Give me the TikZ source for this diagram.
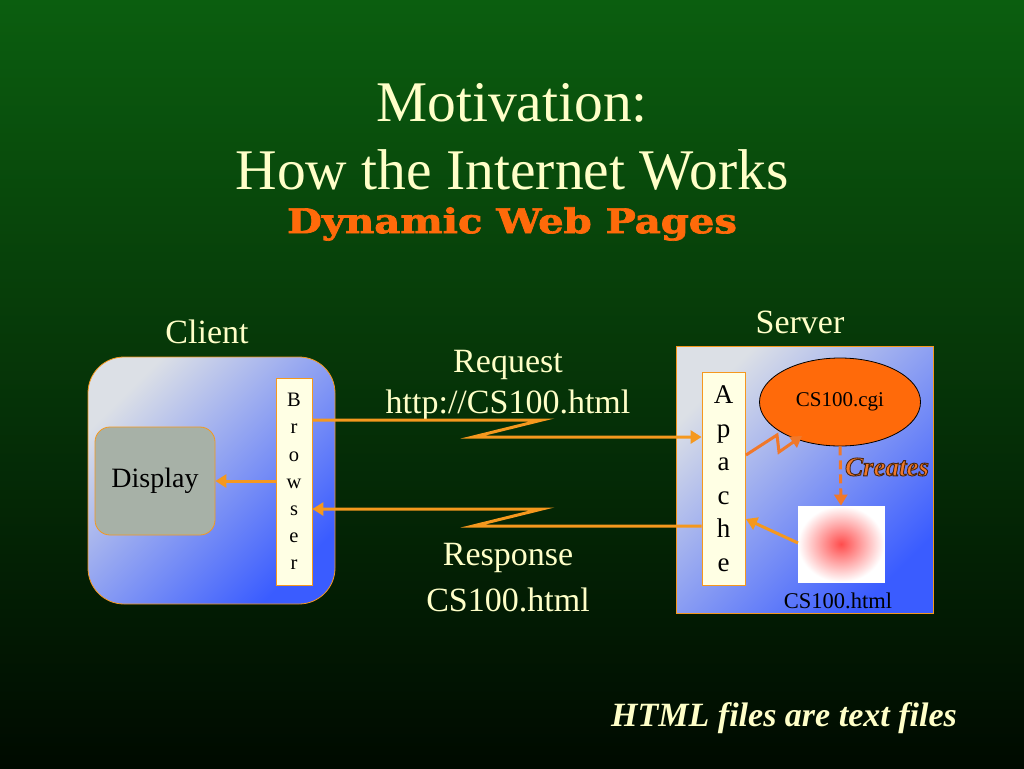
\documentclass[tikz,border=0pt]{standalone}
\usepackage{fontspec}
\setmainfont{Liberation Serif}
\newfontface\heavyfont[FakeBold=2]{DejaVu Serif Bold}
\usetikzlibrary{shapes.geometric,arrows.meta,calc}
\definecolor{bgtop}{HTML}{0B5E0F}
\definecolor{bgmid}{HTML}{064A08}
\definecolor{bgbot}{HTML}{000A00}
\definecolor{cream}{HTML}{FFFFC8}
\definecolor{boxlight}{HTML}{DCE0E6}
\definecolor{boxmid}{HTML}{A4B2F2}
\definecolor{boxblue}{HTML}{3A5CFF}
\definecolor{amber}{HTML}{F5981E}
\definecolor{hotorange}{HTML}{FF6A0A}
\definecolor{dashorange}{HTML}{F0782A}
\definecolor{dispfill}{HTML}{A7B1A7}
\definecolor{barfill}{HTML}{FFFFE4}
\newcommand{\outlinedtext}[1]{\special{pdf:literal direct 2 Tr 0.9 w 0.3 0.15 0.05 RG}#1\special{pdf:literal direct 0 Tr}}
\begin{document}
\begin{tikzpicture}[x=1pt,y=-1pt,
  bluebox/.style={draw=amber, line width=0.8pt, top color=boxlight, middle color=boxmid, bottom color=boxblue, shading angle=45},
  barbox/.style={draw=amber, line width=0.8pt, fill=barfill, inner sep=0pt, text=black},
  conn/.style={draw=amber, line width=3pt, line join=miter},
  tip/.style={-{Triangle[width=13pt,length=11pt]}},
  lbl/.style={text=cream, inner sep=0pt, font=\fontsize{34}{38}\selectfont},
  ]
\useasboundingbox (0,0) rectangle (1024,768);
\fill[top color=bgtop, middle color=bgmid, bottom color=bgbot] (0,0) rectangle (1024,768);

% title
\node[text=cream, inner sep=0pt, font=\fontsize{57.5}{60}\selectfont] (t1) at (512,103) {Motivation:};
\node[text=cream, inner sep=0pt, font=\fontsize{57.5}{60}\selectfont] (t2) at (512,170) {How the Internet Works};
\node[text=hotorange, inner sep=0pt, font=\heavyfont\fontsize{34}{36}\selectfont] (t3) at (512,224) {\scalebox{1.18}[1]{Dynamic Web Pages}};

% client
\node[lbl] (clientlbl) at (207,332) {Client};
\node[bluebox, rounded corners=36pt, minimum width=247pt, minimum height=247pt] (client) at (211.5,480.5) {};
\node[draw=amber, line width=0.8pt, fill=dispfill, rounded corners=15pt, minimum width=120pt, minimum height=108pt, font=\fontsize{28}{32}\selectfont] (disp) at (155,481) {Display};
\node[barbox, minimum width=36pt, minimum height=207pt, align=center, font=\fontsize{20.5}{27.2}\selectfont] (brow) at (294,481.5) {B\\r\\o\\w\\s\\e\\r};

% server
\node[lbl] (serverlbl) at (800,322) {Server};
\node[bluebox, minimum width=257pt, minimum height=267pt] (server) at (804.5,479.5) {};
\node[barbox, minimum width=43pt, minimum height=213pt, align=center, font=\fontsize{27}{33.5}\selectfont] (apache) at (723.5,478.5) {A\\p\\a\\c\\h\\e};
\node[ellipse, draw=black, line width=0.8pt, fill=hotorange, minimum width=161pt, minimum height=88pt, inner sep=0pt, font=\fontsize{21}{24}\selectfont] (cgi) at (840,402) {CS100.cgi};
\node[draw=white, line width=0.8pt, inner color=red!70!white, outer color=white, minimum width=86pt, minimum height=76pt] (page) at (841,544) {};
\node[inner sep=0pt, text=black, font=\fontsize{22.5}{26}\selectfont] (pagelbl) at (838,601) {CS100.html};
\node[inner sep=0pt, text=dashorange, font=\bfseries\itshape\fontsize{27}{30}\selectfont] (creates) at (887,467) {\outlinedtext{Creates}};

% request / response labels
\node[lbl] (req) at (508,365) {Request};
\node[lbl] (requrl) at (508,405) {http://CS100.html};
\node[lbl] (resp) at (508,558) {Response};
\node[lbl] (respurl) at (508,600) {CS100.html};
\node[text=cream, inner sep=0pt, font=\bfseries\itshape\fontsize{34}{38}\selectfont] (note) at (784,718) {HTML files are text files};

% connectors
\coordinate (reqA) at (542,420);
\coordinate (reqB) at (473,437);
\draw[conn, tip] (brow.east |- reqA) -- (reqA) -- (reqB) -- (apache.west |- reqB);
\coordinate (resA) at (542,509);
\coordinate (resB) at (473,526);
\draw[conn, tip] (apache.west |- resB) -- (resB) -- (resA) -- (brow.east |- resA);
\draw[conn, tip] (brow.west |- disp.east) -- (disp.east);
\coordinate (zS) at (746,455);
\coordinate (zA) at (777,435);
\coordinate (zB) at (779,452);
\coordinate (zC) at (802,436);
\draw[draw=dashorange, line width=3pt, line join=miter, tip] (zS) -- (zA) -- (zB) -- (zC);
\draw[draw=dashorange, line width=3pt, dash pattern=on 9pt off 5pt, tip] (cgi.south) -- (page.north);
\coordinate (pgS) at (798,543);
\coordinate (apE) at (746,519);
\draw[conn, tip] (pgS) -- (apE);
\end{tikzpicture}
\end{document}
